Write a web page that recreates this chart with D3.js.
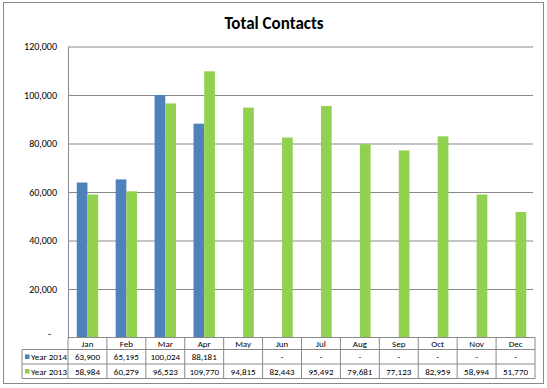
<!DOCTYPE html>
<html>
<head>
<meta charset="utf-8">
<script src="https://cdn.jsdelivr.net/npm/d3@7"></script>
<style>
  body { margin: 0; background: #fff; }
  svg { font-family: Carlito, Calibri, Lato, "Open Sans", sans-serif; }
</style>
</head>
<body>
<div id="chart"></div>
<script>
var months = ["Jan", "Feb", "Mar", "Apr", "May", "Jun", "Jul", "Aug", "Sep", "Oct", "Nov", "Dec"];
var seriesNames = ["Year 2014", "Year 2013"];
var year2014 = [63900, 65195, 100024, 88181, null, 0, 0, 0, 0, 0, 0, 0];
var year2013 = [58984, 60279, 96523, 109770, 94815, 82443, 95492, 79681, 77123, 82959, 58994, 51770];
var yTicks = [0, 20000, 40000, 60000, 80000, 100000, 120000];

var colors = ["#4f81bd", "#92d050"];
var lineColor = "#898989";

var W = 547, H = 388;
var plotLeft = 68, plotRight = 535, plotTop = 46.5, plotBottom = 337.5;
var rowH = [12, 14.5, 14.5];

var svg = d3.select("#chart")
  .append("svg")
    .attr("width", W)
    .attr("height", H);

// chart area border
svg.append("rect")
  .attr("x", 3.5).attr("y", 2.5)
  .attr("width", 540).attr("height", 381)
  .attr("fill", "#fff")
  .attr("stroke", lineColor);

svg.append("text")
  .attr("x", 274).attr("y", 29)
  .attr("text-anchor", "middle")
  .attr("font-size", 17)
  .attr("font-weight", "bold")
  .text("Total Contacts");

var x = d3.scaleBand()
  .domain(months)
  .range([plotLeft, plotRight]);

var bw = x.bandwidth();
var barW = bw * 0.275;

var x1 = d3.scaleBand()
  .domain(seriesNames)
  .range([bw / 2 - barW, bw / 2 + barW]);

var y = d3.scaleLinear()
  .domain([0, 120000])
  .range([plotBottom, plotTop]);

// gridlines
svg.append("g")
  .attr("transform", "translate(" + plotLeft + ",0)")
  .call(d3.axisLeft(y).tickValues(yTicks.slice(1)).tickSize(-(plotRight - plotLeft - 2)).tickFormat(""))
  .call(function(g) {
    g.select(".domain").remove();
    g.selectAll("line").attr("stroke", lineColor);
  });

// y axis
svg.append("g")
  .attr("transform", "translate(" + plotLeft + ",0)")
  .call(d3.axisLeft(y).tickValues(yTicks).tickSize(0).tickPadding(11)
    .tickFormat(function(d) { return d === 0 ? "-" : d3.format(",")(d); }))
  .call(function(g) {
    g.select(".domain").attr("stroke", lineColor);
    g.selectAll("text").attr("font-size", 10).attr("fill", "#000")
      .attr("font-family", "Carlito, Calibri, Lato, sans-serif");
    g.selectAll(".tick").filter(function(d) { return d === 0; })
      .select("text").attr("dx", -6).attr("dy", "-0.1em");
  });

var series = [year2014, year2013];

series.forEach(function(vals, si) {
  svg.append("g")
    .selectAll("rect")
    .data(months.map(function(m, i) { return {m: m, v: vals[i]}; })
      .filter(function(d) { return d.v; }))
    .enter().append("rect")
      .attr("x", function(d) { return x(d.m) + x1(seriesNames[si]); })
      .attr("width", x1.bandwidth())
      .attr("y", function(d) { return y(d.v); })
      .attr("height", function(d) { return y(0) - y(d.v); })
      .attr("fill", colors[si]);
});

// data table
var table = svg.append("g").attr("stroke", lineColor).attr("fill", "none");
var r0 = plotBottom, r1 = r0 + rowH[0], r2 = r1 + rowH[1], r3 = r2 + rowH[2];
var legendLeft = 22;

[r0, r1, r2, r3].forEach(function(yy, i) {
  table.append("line")
    .attr("x1", i === 0 ? plotLeft : legendLeft).attr("x2", plotRight)
    .attr("y1", yy).attr("y2", yy);
});
table.append("line").attr("x1", legendLeft).attr("x2", legendLeft).attr("y1", r1).attr("y2", r3);
months.concat([null]).forEach(function(m) {
  var xx = m ? x(m) : plotRight;
  table.append("line").attr("x1", xx).attr("x2", xx).attr("y1", r0).attr("y2", r3);
});

svg.append("g")
  .selectAll("text")
  .data(months)
  .enter().append("text")
    .attr("x", function(d) { return x(d) + bw / 2; })
    .attr("y", r1 - 3)
    .attr("text-anchor", "middle")
    .attr("font-size", 9)
    .text(function(d) { return d; });

var fmt = function(v) {
  if (v === null) return "";
  if (v === 0) return "-";
  return d3.format(",")(v);
};

series.forEach(function(vals, si) {
  var base = si === 0 ? r2 : r3;
  var g = svg.append("g");
  g.append("rect")
    .attr("x", 25).attr("y", base - 9.5)
    .attr("width", 4.5).attr("height", 4.5)
    .attr("fill", colors[si]);
  g.append("text")
    .attr("x", 31).attr("y", base - 4)
    .attr("font-size", 9)
    .text(seriesNames[si]);
  g.selectAll(".val")
    .data(vals)
    .enter().append("text")
      .attr("x", function(d, i) { return x(months[i]) + bw / 2; })
      .attr("y", base - 4)
      .attr("text-anchor", "middle")
      .attr("font-size", 9)
      .text(fmt);
});
</script>
</body>
</html>
